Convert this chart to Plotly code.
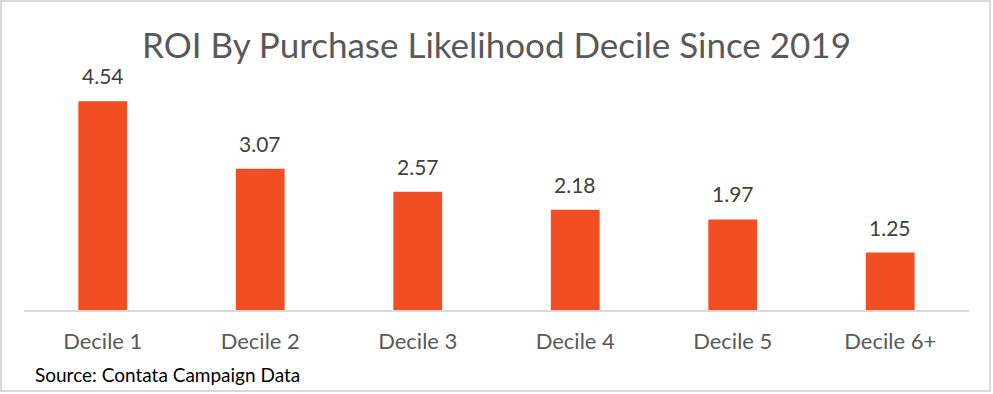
import plotly.graph_objects as go

categories = ["Decile 1", "Decile 2", "Decile 3", "Decile 4", "Decile 5", "Decile 6+"]
roi_values = [4.54, 3.07, 2.57, 2.18, 1.97, 1.25]
title_text = "ROI By Purchase Likelihood Decile Since 2019"
source_text = "Source: Contata Campaign Data"

W, H = 993, 394
L, R, T, B = 24, 24, 80, 84
pw, ph = W - L - R, H - T - B

FONT = "Lato, 'Open Sans', sans-serif"

fig = go.Figure()
fig.add_trace(go.Bar(
    x=categories, y=roi_values,
    marker=dict(color="#F14E23", line=dict(width=0)),
    hoverinfo="skip", cliponaxis=False,
))

annotations = []
for c, v in zip(categories, roi_values):
    annotations.append(dict(
        x=c, y=v, xref="x", yref="y", text=f"{v:.2f}", showarrow=False,
        yanchor="bottom", yshift=11,
        font=dict(family=FONT, size=21, color="#404040"),
    ))
annotations.append(dict(
    x=(33 - L) / pw, y=(310 - 374) / ph, xref="paper", yref="paper",
    text=source_text, showarrow=False, xanchor="left", yanchor="middle",
    font=dict(family=FONT, size=19, color="#000000"),
))
annotations.append(dict(
    x=0.5, y=(310 - 44) / ph, xref="paper", yref="paper",
    text=title_text, showarrow=False, xanchor="center", yanchor="middle",
    font=dict(family=FONT, size=35, color="#595959"),
))

fig.update_layout(
    width=W, height=H,
    margin=dict(l=L, r=R, t=T, b=B, pad=0),
    paper_bgcolor="white", plot_bgcolor="white",
    bargap=0.69,
    showlegend=False,
    hovermode=False,
    annotations=annotations,
    xaxis=dict(
        showline=True, linecolor="#D9D9D9", linewidth=2,
        ticks="", showgrid=False, zeroline=False,
        tickfont=dict(family=FONT, size=22, color="#595959"),
        ticklabelstandoff=11,
    ),
    yaxis=dict(range=[0, 5], visible=False, showgrid=False, zeroline=False),
    shapes=[dict(
        type="rect", xref="paper", yref="paper",
        x0=(1 - L) / pw, x1=(990 - L) / pw,
        y0=(310 - 391) / ph, y1=(310 - 1) / ph,
        line=dict(color="#D9D9D9", width=2), fillcolor="rgba(0,0,0,0)",
        layer="below",
    )],
)

fig.write_html(
    "out.html",
    config={"displayModeBar": False, "staticPlot": True},
    post_script="document.body.style.margin='0';document.body.style.overflow='hidden';",
)
